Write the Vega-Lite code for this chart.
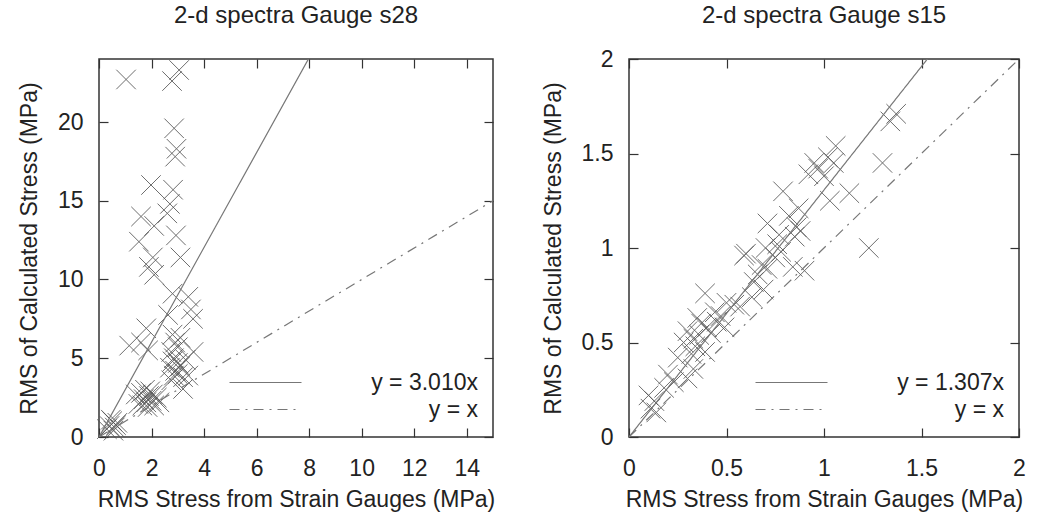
{
  "$schema": "https://vega.github.io/schema/vega-lite/v6.json",
  "padding": {"left": 17, "top": 3, "right": 5, "bottom": 5},
  "background": "white",
  "spacing": 45,
  "datasets": {
    "s28": [
      {"x":1.03,"y":22.7},{"x":2.78,"y":22.6},{"x":3.05,"y":23.3},{"x":2.86,"y":19.6},{"x":2.95,"y":18.3},{"x":2.9,"y":17.8},
      {"x":1.98,"y":16.0},{"x":2.82,"y":15.7},{"x":2.7,"y":14.8},{"x":2.6,"y":14.2},{"x":1.6,"y":14.0},{"x":2.1,"y":13.4},
      {"x":2.93,"y":12.8},{"x":1.52,"y":12.4},{"x":2.05,"y":11.4},{"x":3.1,"y":11.4},{"x":1.9,"y":10.8},{"x":2.1,"y":10.3},
      {"x":2.8,"y":9.1},{"x":3.4,"y":8.9},{"x":2.63,"y":7.75},{"x":3.5,"y":8.1},{"x":3.58,"y":7.5},{"x":1.8,"y":6.9},
      {"x":1.15,"y":5.8},{"x":1.6,"y":6.0},{"x":1.87,"y":5.5},
      {"x":2.8,"y":6.5},{"x":2.9,"y":6.0},{"x":3.0,"y":5.7},{"x":2.75,"y":5.4},{"x":3.1,"y":6.3},{"x":2.85,"y":5.0},{"x":3.6,"y":5.4},
      {"x":2.7,"y":4.4},{"x":2.8,"y":4.8},{"x":2.9,"y":4.2},{"x":3.0,"y":4.0},{"x":3.1,"y":4.5},{"x":3.2,"y":3.8},{"x":2.75,"y":3.6},
      {"x":3.3,"y":4.9},{"x":3.2,"y":3.05},{"x":3.4,"y":3.9},{"x":3.0,"y":4.7},{"x":2.85,"y":3.9},
      {"x":1.6,"y":2.8},{"x":1.7,"y":2.4},{"x":1.8,"y":2.2},{"x":1.9,"y":2.6},{"x":2.0,"y":2.3},{"x":2.1,"y":2.0},{"x":1.75,"y":3.0},
      {"x":2.2,"y":2.5},{"x":1.5,"y":2.1},{"x":2.3,"y":2.2},{"x":1.85,"y":1.9},{"x":1.4,"y":2.7},{"x":1.95,"y":2.9},{"x":2.05,"y":2.7},{"x":1.65,"y":2.0},
      {"x":0.4,"y":0.7},{"x":0.5,"y":1.0},{"x":0.6,"y":0.6},{"x":0.7,"y":0.9},{"x":0.55,"y":0.4},{"x":0.45,"y":1.1},{"x":0.65,"y":0.75},{"x":0.3,"y":0.5}
    ],
    "s15": [
      {"x":1.37,"y":1.71},{"x":1.34,"y":1.67},{"x":1.30,"y":1.45},{"x":1.06,"y":1.54},{"x":1.05,"y":1.45},{"x":1.02,"y":1.48},
      {"x":0.95,"y":1.45},{"x":0.92,"y":1.39},{"x":1.03,"y":1.25},{"x":1.13,"y":1.29},{"x":1.23,"y":1.0},{"x":0.87,"y":1.21},
      {"x":0.86,"y":1.11},{"x":0.88,"y":1.09},{"x":0.79,"y":1.30},{"x":0.90,"y":0.88},{"x":0.84,"y":0.90},{"x":0.71,"y":1.13},
      {"x":0.77,"y":1.07},{"x":0.60,"y":0.97},{"x":0.70,"y":1.0},{"x":0.68,"y":0.91},{"x":0.75,"y":0.95},{"x":0.59,"y":0.96},
      {"x":0.66,"y":0.86},{"x":0.71,"y":0.89},{"x":0.63,"y":0.74},{"x":0.39,"y":0.76},{"x":0.44,"y":0.66},{"x":0.30,"y":0.56},
      {"x":0.33,"y":0.52},{"x":0.28,"y":0.50},{"x":0.37,"y":0.60},{"x":0.42,"y":0.55},{"x":0.45,"y":0.61},{"x":0.54,"y":0.70},
      {"x":0.32,"y":0.44},{"x":0.25,"y":0.42},{"x":0.20,"y":0.33},{"x":0.23,"y":0.29},{"x":0.18,"y":0.26},{"x":0.13,"y":0.19},
      {"x":0.11,"y":0.15},{"x":0.14,"y":0.13},{"x":0.10,"y":0.22},{"x":0.33,"y":0.36},{"x":0.30,"y":0.31},{"x":0.39,"y":0.45},
      {"x":0.35,"y":0.63},{"x":0.49,"y":0.58},{"x":0.82,"y":1.17},{"x":0.76,"y":1.02},{"x":0.64,"y":0.82},{"x":0.69,"y":0.78},
      {"x":0.57,"y":0.69},{"x":0.36,"y":0.54},{"x":0.40,"y":0.58},{"x":0.34,"y":0.48},{"x":0.47,"y":0.64},{"x":0.78,"y":0.98},
      {"x":0.85,"y":1.06},{"x":1.0,"y":1.38},{"x":0.97,"y":1.42},{"x":0.50,"y":0.71}
    ],
    "l28": [
      {"fit":"y = 3.010x","x":0,"y":0},{"fit":"y = 3.010x","x":15,"y":45.15},
      {"fit":"y = x","x":0,"y":0},{"fit":"y = x","x":15,"y":15}
    ],
    "l15": [
      {"fit":"y = 1.307x","x":0,"y":0},{"fit":"y = 1.307x","x":2,"y":2.614},
      {"fit":"y = x","x":0,"y":0},{"fit":"y = x","x":2,"y":2}
    ]
  },
  "hconcat": [
    {
      "width": 394, "height": 378,
      "title": {"text": "2-d spectra Gauge s28", "offset": 30},
      "layer": [
        {
          "data": {"name": "s28"},
          "mark": {"type": "point", "shape": "M-1,-1L1,1M-1,1L1,-1", "size": 380, "strokeWidth": 1, "color": "#555", "filled": false, "opacity": 0.85},
          "encoding": {
            "x": {"field": "x", "type": "quantitative", "scale": {"domain": [0, 15], "nice": false},
                  "axis": {"orient": "bottom", "values": [0,2,4,6,8,10,12,14], "format": "~g", "title": "RMS Stress from Strain Gauges (MPa)"}},
            "y": {"field": "y", "type": "quantitative", "scale": {"domain": [0, 24], "nice": false},
                  "axis": {"orient": "left", "values": [0,5,10,15,20], "format": "~g", "title": "RMS of Calculated Stress (MPa)"}}
          }
        },
        {
          "data": {"name": "l28"},
          "mark": {"type": "line", "clip": true, "color": "#777", "strokeWidth": 1.2},
          "encoding": {
            "x": {"field": "x", "type": "quantitative", "axis": {"orient": "top", "values": [0,2,4,6,8,10,12,14], "labels": false, "title": null}},
            "y": {"field": "y", "type": "quantitative", "axis": {"orient": "right", "values": [0,5,10,15,20], "labels": false, "title": null}},
            "strokeDash": {"field": "fit", "type": "nominal",
              "scale": {"domain": ["y = 3.010x", "y = x"], "range": [[1, 0], [10, 6, 2, 6]]},
              "legend": {"title": null, "orient": "bottom-right", "offset": 15}}
          }
        }
      ],
      "resolve": {"axis": {"x": "independent", "y": "independent"}}
    },
    {
      "width": 390, "height": 378,
      "title": {"text": "2-d spectra Gauge s15", "offset": 20},
      "layer": [
        {
          "data": {"name": "s15"},
          "mark": {"type": "point", "shape": "M-1,-1L1,1M-1,1L1,-1", "size": 380, "strokeWidth": 1, "color": "#555", "filled": false, "opacity": 0.85},
          "encoding": {
            "x": {"field": "x", "type": "quantitative", "scale": {"domain": [0, 2], "nice": false},
                  "axis": {"orient": "bottom", "values": [0,0.5,1,1.5,2], "format": "~g", "title": "RMS Stress from Strain Gauges (MPa)"}},
            "y": {"field": "y", "type": "quantitative", "scale": {"domain": [0, 2], "nice": false},
                  "axis": {"orient": "left", "values": [0,0.5,1,1.5,2], "format": "~g", "title": "RMS of Calculated Stress (MPa)"}}
          }
        },
        {
          "data": {"name": "l15"},
          "mark": {"type": "line", "clip": true, "color": "#777", "strokeWidth": 1.2},
          "encoding": {
            "x": {"field": "x", "type": "quantitative", "axis": {"orient": "top", "values": [0,0.5,1,1.5,2], "labels": false, "title": null}},
            "y": {"field": "y", "type": "quantitative", "axis": {"orient": "right", "values": [0,0.5,1,1.5,2], "labels": false, "title": null}},
            "strokeDash": {"field": "fit", "type": "nominal",
              "scale": {"domain": ["y = 1.307x", "y = x"], "range": [[1, 0], [10, 6, 2, 6]]},
              "legend": {"title": null, "orient": "bottom-right", "offset": 15}}
          }
        }
      ],
      "resolve": {"axis": {"x": "independent", "y": "independent"}}
    }
  ],
  "resolve": {"scale": {"strokeDash": "independent"}, "legend": {"strokeDash": "independent"}},
  "config": {
    "font": "Liberation Sans",
    "view": {"stroke": "#333", "strokeWidth": 1.5},
    "axis": {"domain": false, "grid": false, "tickSize": -9, "tickColor": "#333", "tickWidth": 1.2,
             "labelFontSize": 23, "labelColor": "#222", "labelFlush": false,
             "titleFontSize": 23, "titleFontWeight": "normal", "titleColor": "#222"},
    "axisX": {"labelPadding": 29, "titlePadding": 8},
    "axisY": {"labelPadding": 25, "titlePadding": 16},
    "legend": {"symbolType": "M-3.6,0L3.6,0", "symbolSize": 400, "symbolStrokeColor": "#777", "symbolStrokeWidth": 1.2,
               "labelFontSize": 23, "labelColor": "#222", "rowPadding": 3, "labelOffset": 201, "padding": 0, "labelAlign": "right"},
    "title": {"fontSize": 24, "fontWeight": "normal", "color": "#222"}
  }
}
